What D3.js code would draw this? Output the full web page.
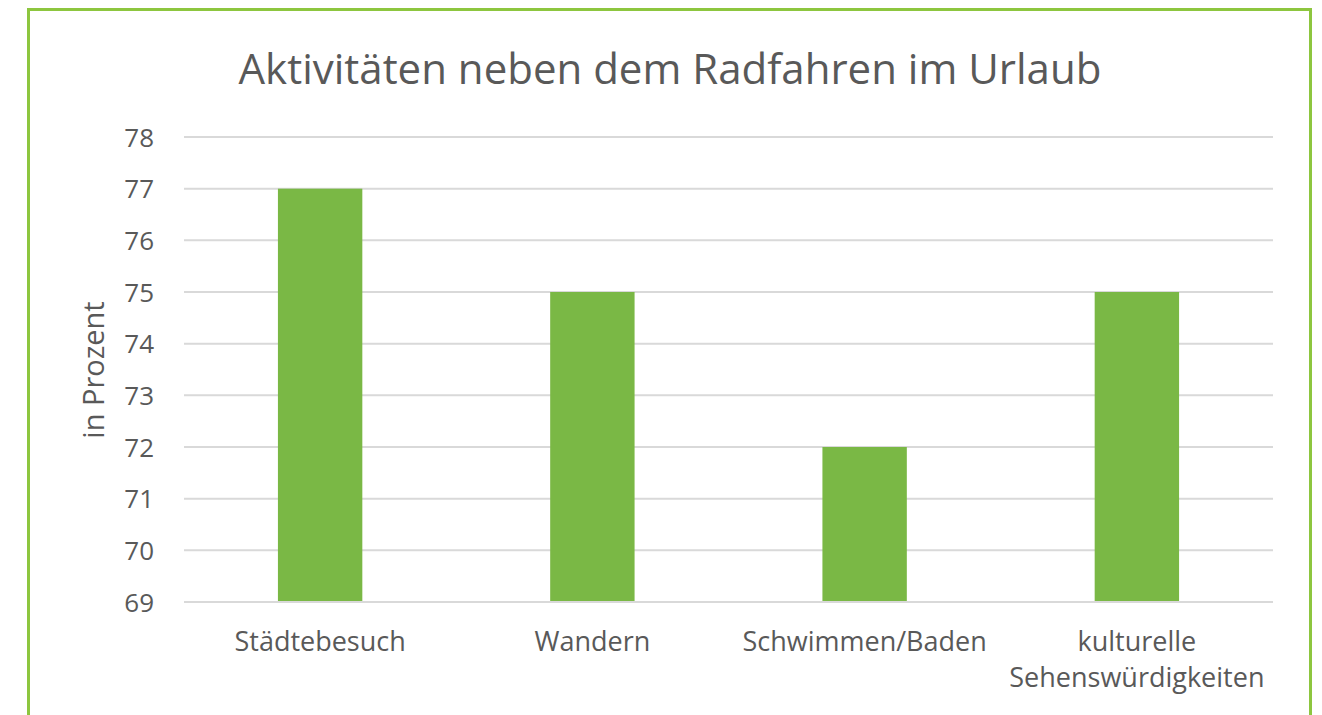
<!DOCTYPE html>
<html>
<head>
<meta charset="utf-8">
<title>Aktivitäten neben dem Radfahren im Urlaub</title>
<script src="https://cdn.jsdelivr.net/npm/d3@7"></script>
<style>
body { margin: 0; background: #fff; }
svg { display: block; font-family: "Open Sans", sans-serif; }
.grid line { stroke: #d9d9d9; stroke-width: 2; }
.axis text { fill: #595959; }
</style>
</head>
<body>
<svg width="1322" height="715"></svg>
<script>

var categories = ["Städtebesuch", "Wandern", "Schwimmen/Baden", "kulturelle Sehenswürdigkeiten"];
var labelLines = [["Städtebesuch"], ["Wandern"], ["Schwimmen/Baden"], ["kulturelle", "Sehenswürdigkeiten"]];
var values = [77, 75, 72, 75];
var yTicks = [69, 70, 71, 72, 73, 74, 75, 76, 77, 78];

var svg = d3.select("svg"),
    margin = {top: 137, right: 49, bottom: 113, left: 184},
    width = 1322 - margin.left - margin.right,
    height = 715 - margin.top - margin.bottom;

// frame
svg.append("rect")
    .attr("x", 28.5).attr("y", 9.5)
    .attr("width", 1282).attr("height", 760)
    .attr("fill", "none")
    .attr("stroke", "#8dc63f")
    .attr("stroke-width", 3);

svg.append("text")
    .attr("x", 670).attr("y", 84)
    .attr("text-anchor", "middle")
    .attr("fill", "#595959")
    .style("font-size", "42px")
    .text("Aktivitäten neben dem Radfahren im Urlaub");

var g = svg.append("g")
    .attr("transform", "translate(" + margin.left + "," + margin.top + ")");

var x = d3.scaleBand()
    .domain(categories)
    .range([0, width])
    .paddingInner(0.69)
    .paddingOuter(0.345);

var y = d3.scaleLinear()
    .domain([69, 78])
    .range([height, 0]);

g.append("g")
    .attr("class", "grid")
  .selectAll("line")
  .data(yTicks)
  .enter().append("line")
    .attr("x1", 0).attr("x2", width)
    .attr("y1", function(d) { return y(d); })
    .attr("y2", function(d) { return y(d); });

g.selectAll(".bar")
  .data(values)
  .enter().append("rect")
    .attr("class", "bar")
    .attr("x", function(d, i) { return x(categories[i]); })
    .attr("width", x.bandwidth())
    .attr("y", function(d) { return y(d); })
    .attr("height", function(d) { return y(69) - y(d) - 1; })
    .attr("fill", "#7ab845");

var yAxis = g.append("g")
    .attr("class", "axis")
    .call(d3.axisLeft(y).tickValues(yTicks).tickSize(0).tickPadding(30));
yAxis.attr("font-family", null).attr("font-size", null);
yAxis.select(".domain").remove();
yAxis.selectAll("text").style("font-size", "26px").attr("dy", "0.35em");

var xAxis = g.append("g")
    .attr("class", "axis")
    .attr("transform", "translate(0," + height + ")")
    .call(d3.axisBottom(x).tickSize(0).tickFormat(""));
xAxis.attr("font-family", null).attr("font-size", null);
xAxis.select(".domain").remove();

xAxis.selectAll(".tick").each(function(d, i) {
  var t = d3.select(this).append("text")
      .attr("text-anchor", "middle")
      .attr("fill", "#595959")
      .style("font-size", "27px");
  labelLines[i].forEach(function(line, j) {
    t.append("tspan").attr("x", 0).attr("y", 49 + j * 36).text(line);
  });
});

svg.append("text")
    .attr("transform", "translate(104,370) rotate(-90)")
    .attr("text-anchor", "middle")
    .attr("fill", "#595959")
    .style("font-size", "29px")
    .text("in Prozent");

</script>
</body>
</html>
